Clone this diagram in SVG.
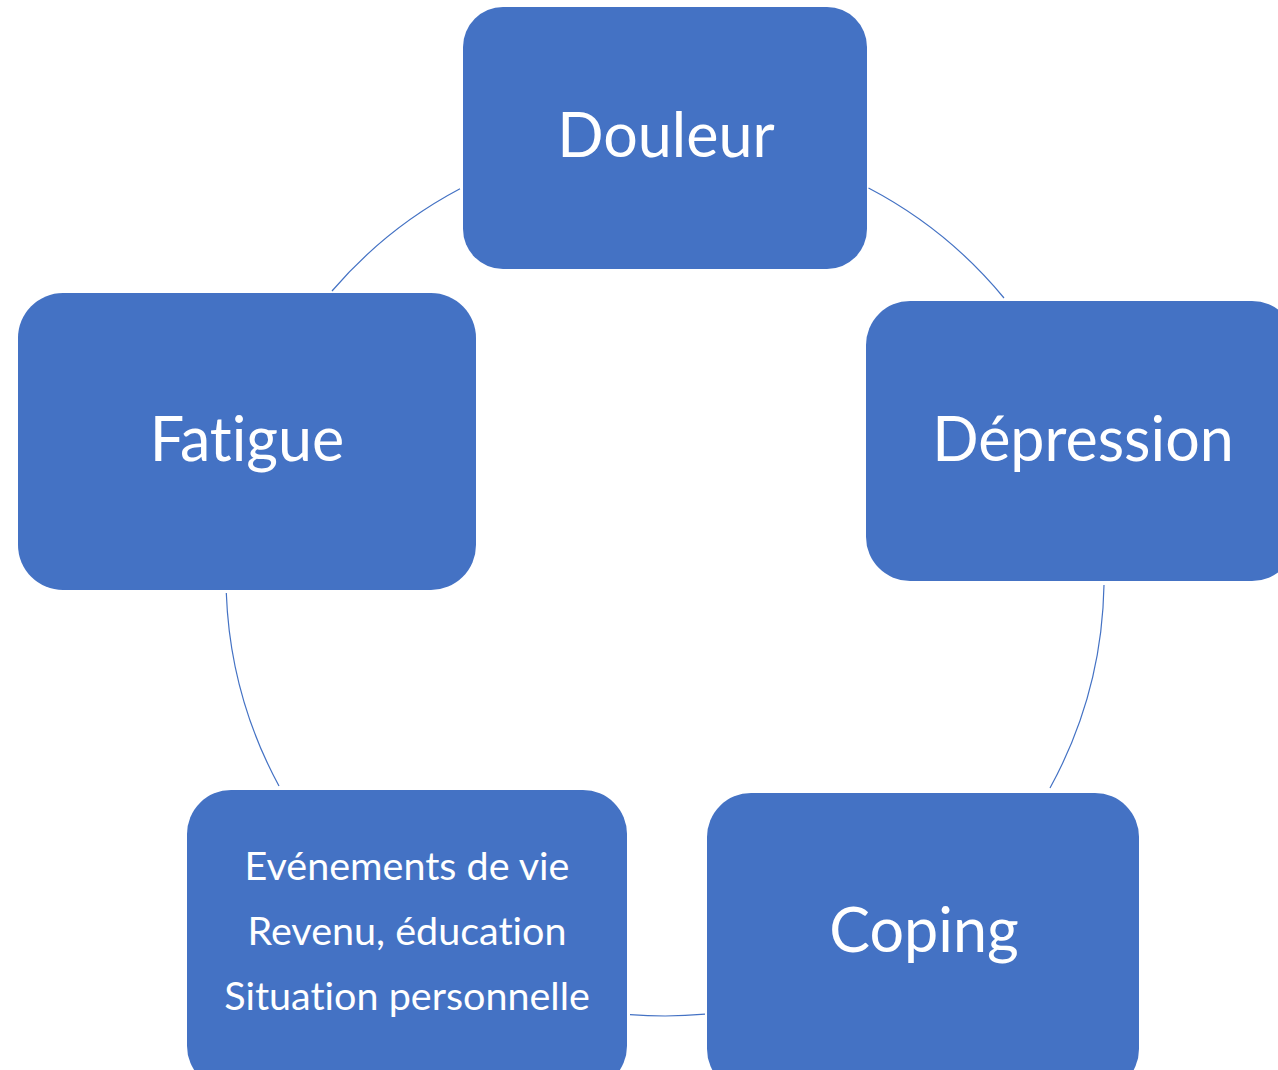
<svg xmlns="http://www.w3.org/2000/svg" width="1278" height="1070" viewBox="0 0 1278 1070">
<style>
.box{fill:#4472C4;}
.lbl{fill:#fff;font-family:Lato,"Open Sans",sans-serif;text-anchor:middle;font-variant-ligatures:none;font-feature-settings:"liga" 0;}
.big{font-size:61px;}
.sm{font-size:39.5px;}
.arc{fill:none;stroke:#4472C4;stroke-width:1.2;}
</style>
<rect width="1278" height="1070" fill="#fff"/>
<g id="connectors">
<path class="arc" d="M 868.5 188 A 439 439 0 0 1 1004 298"/>
<path class="arc" d="M 1104 585 A 439 439 0 0 1 1050 788"/>
<path class="arc" d="M 705 1014.2 A 439 439 0 0 1 630 1014.6"/>
<path class="arc" d="M 279 786 A 439 439 0 0 1 226.3 593"/>
<path class="arc" d="M 332 291 A 439 439 0 0 1 460 188.8"/>
</g>
<g id="douleur">
<rect class="box" x="463" y="7" width="404" height="262" rx="40"/>
<text class="lbl big" x="666" y="157">Douleur</text>
</g>
<g id="depression">
<rect class="box" x="866" y="301" width="430" height="280" rx="44"/>
<text class="lbl big" x="1083" y="461">Dépression</text>
</g>
<g id="coping">
<rect class="box" x="707" y="793" width="432" height="300" rx="44"/>
<text class="lbl big" x="924" y="952">Coping</text>
</g>
<g id="evenements">
<rect class="box" x="187" y="790" width="440" height="300" rx="44"/>
<text class="lbl sm" x="407" y="880">Evénements de vie</text>
<text class="lbl sm" x="407" y="945">Revenu, éducation</text>
<text class="lbl sm" x="407" y="1010">Situation personnelle</text>
</g>
<g id="fatigue">
<rect class="box" x="18" y="293" width="458" height="297" rx="45"/>
<text class="lbl big" x="247" y="461">Fatigue</text>
</g>
</svg>
